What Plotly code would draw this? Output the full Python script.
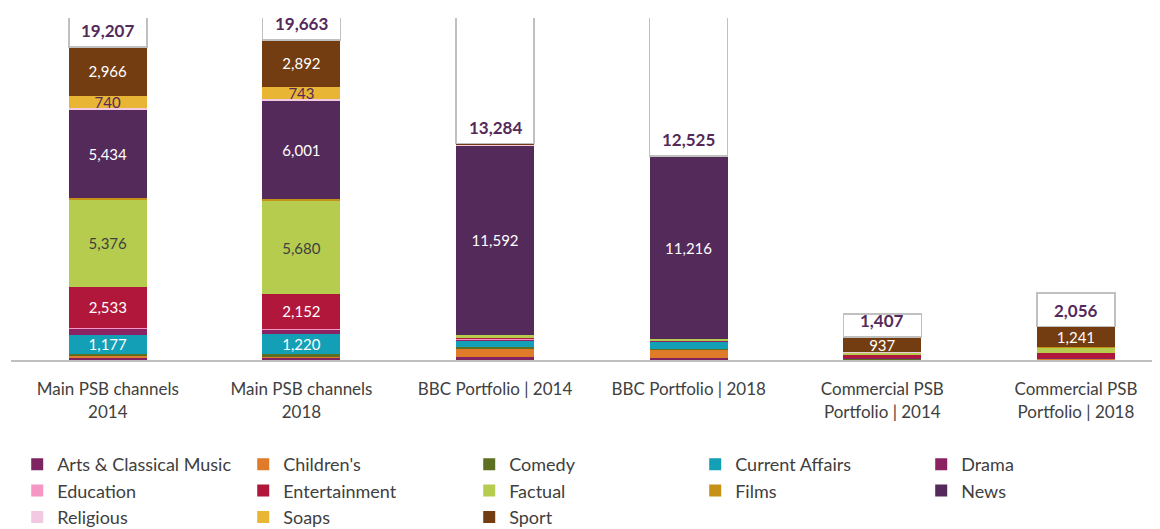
import plotly.graph_objects as go

# categories (x axis)
categories = [
    "Main PSB channels<br>2014",
    "Main PSB channels<br>2018",
    "BBC Portfolio | 2014",
    "BBC Portfolio | 2018",
    "Commercial PSB<br>Portfolio | 2014",
    "Commercial PSB<br>Portfolio | 2018",
]

genres = ["Arts & Classical Music", "Children's", "Comedy", "Current Affairs", "Drama",
          "Education", "Entertainment", "Factual", "Films", "News",
          "Religious", "Soaps", "Sport"]

# hours per genre, one value per category (small ones)
arts = [130, 130, 165, 140, 15, 10]
childrens = [100, 80, 550, 530, 40, 60]
comedy = [150, 160, 60, 20, 30, 20]
current_affairs = [1177, 1220, 410, 450, 0, 0]
drama = [380, 260, 100, 60, 40, 30]
education = [30, 60, 40, 10, 0, 0]
entertainment = [2533, 2152, 30, 10, 240, 330]
factual = [5376, 5680, 185, 60, 80, 340]
films = [80, 150, 20, 0, 10, 10]
news = [5434, 6001, 11592, 11216, 0, 0]
religious = [111, 135, 60, 15, 15, 15]
soaps = [740, 743, 0, 0, 0, 0]
sport = [2966, 2892, 72, 14, 937, 1241]

totals = [19207, 19663, 13284, 12525, 1407, 2056]

series = [arts, childrens, comedy, current_affairs, drama, education, entertainment,
          factual, films, news, religious, soaps, sport]

colors = ["#7d2461", "#e07b29", "#5d6f22", "#139fb5", "#8b2261",
          "#f596c4", "#b0173b", "#b6cc4e", "#c59217", "#542a5b",
          "#f1c9e0", "#e8b534", "#733c11"]

dark_label = {"Factual": "#404040", "Soaps": "#542a5b"}

xs = list(range(len(categories)))
fig = go.Figure()

for name, vals, col in zip(genres, series, colors):
    txt = [f"{v:,}" if v >= 700 else "" for v in vals]
    fig.add_trace(go.Bar(
        x=xs, y=vals, name=name,
        marker=dict(color=col, line=dict(width=0)),
        width=0.403,
        text=txt, textposition="inside", insidetextanchor="middle",
        textangle=0, constraintext="none",
        textfont=dict(color=dark_label.get(name, "white"), size=15),
        hoverinfo="name+y",
    ))

# white "total" box stacked on top (clipped by the axis range)
fig.add_trace(go.Bar(
    x=xs, y=totals, name="Total", showlegend=False,
    marker=dict(color="white", line=dict(color="#c0c0c0", width=1.5)),
    width=0.403, hoverinfo="skip",
))

# total labels just above each stack
for x, t in zip(xs, totals):
    fig.add_annotation(
        x=x, y=t, text=f"<b>{t:,}</b>", showarrow=False,
        yanchor="bottom", yshift=4,
        font=dict(color="#542a5b", size=17),
    )

# page body adds an 8px offset, so the figure is 8px smaller than the window
fig.update_layout(
    barmode="stack",
    width=1152, height=521,
    margin=dict(l=3, r=0, t=10, b=169, autoexpand=False),
    paper_bgcolor="white", plot_bgcolor="white",
    font=dict(family="Lato, Open Sans, sans-serif", color="#404040", size=18),
    uniformtext=dict(minsize=15, mode="show"),
    showlegend=True,
    legend=dict(
        orientation="h", xref="container", x=0.008, xanchor="left",
        yref="container", y=1 - 438 / 521, yanchor="top",
        entrywidth=181, entrywidthmode="pixels",
        font=dict(size=18, color="#404040"),
        traceorder="normal", itemclick=False,
    ),
)

fig.update_xaxes(
    tickmode="array", tickvals=xs, ticktext=categories,
    range=[-0.5, 5.434], showgrid=False, zeroline=False, automargin=False,
    showline=True, linecolor="#bfbfbf", linewidth=2, ticks="",
    ticklabelstandoff=13,
    tickfont=dict(size=17, color="#404040"),
)
fig.update_yaxes(range=[0, 21000], visible=False, showgrid=False, zeroline=False,
                 automargin=False)

fig.write_html("out.html")
